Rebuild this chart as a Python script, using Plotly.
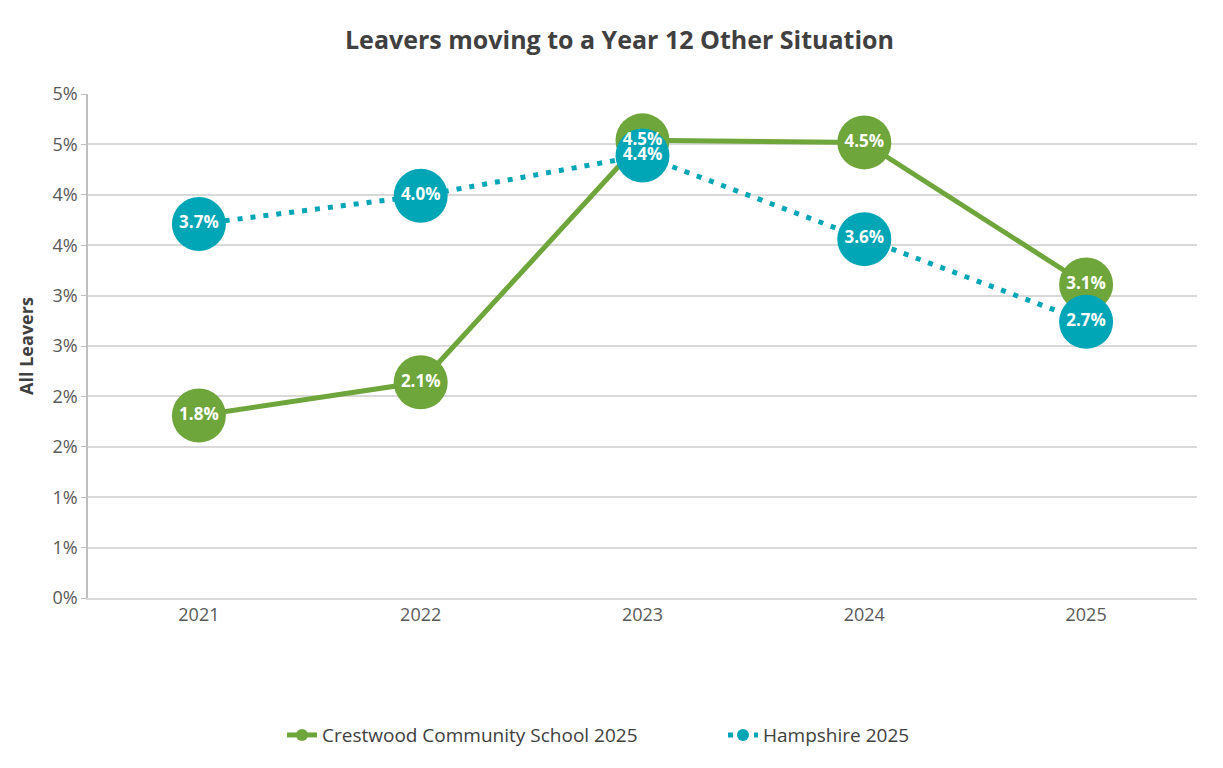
import plotly.graph_objects as go

years = ["2021", "2022", "2023", "2024", "2025"]
crestwood = [1.81, 2.14, 4.54, 4.52, 3.11]
hampshire = [3.71, 3.99, 4.39, 3.56, 2.74]
tick_vals = [0, 0.5, 1, 1.5, 2, 2.5, 3, 3.5, 4, 4.5, 5]
tick_labels = ["0%", "1%", "1%", "2%", "2%", "3%", "3%", "4%", "4%", "5%", "5%"]

title = "Leavers moving to a Year 12 Other Situation"
y_title = "All Leavers"
name_c = "Crestwood Community School 2025"
name_h = "Hampshire 2025"

GREEN = "#6FA63B"
TEAL = "#00A5B6"
FONT = "Open Sans"

fig = go.Figure()
fig.add_trace(go.Scatter(
    x=years, y=crestwood, name=name_c, mode="lines+markers",
    line=dict(color=GREEN, width=5),
    marker=dict(color=GREEN, size=54),
    hoverinfo="skip",
))
fig.add_trace(go.Scatter(
    x=years, y=hampshire, name=name_h, mode="lines+markers",
    line=dict(color=TEAL, width=5, dash="5px,8px"),
    marker=dict(color=TEAL, size=54),
    hoverinfo="skip",
))
for vals in (hampshire, crestwood):
    fig.add_trace(go.Scatter(
        x=years, y=vals, mode="text",
        text=[f"{v:.1f}%" for v in vals],
        textposition="middle center",
        textfont=dict(family=FONT, size=17, color="white", weight="bold"),
        showlegend=False, hoverinfo="skip",
    ))

fig.update_layout(
    width=1223, height=768,
    margin=dict(l=80, r=34, t=86, b=178),
    paper_bgcolor="white", plot_bgcolor="white",
    font=dict(family=FONT, color="#595959", size=18),
    title=dict(text=title, x=0.5, xanchor="center", y=1 - 32 / 768, yanchor="middle",
               font=dict(family=FONT, size=25, color="#404040", weight="bold")),
    showlegend=True,
    legend=dict(orientation="h", x=(282 - 88) / 1109, xanchor="left", y=-0.272, yanchor="middle",
                font=dict(family=FONT, size=19, color="#404040"),
                itemsizing="constant", entrywidth=396, traceorder="normal"),
    xaxis=dict(type="category", range=[-0.5, 4.5], showgrid=False,
               showline=True, linecolor="#D9D9D9", linewidth=1.5,
               ticks="", tickfont=dict(size=18, color="#595959"), zeroline=False),
    yaxis=dict(range=[0, 5], tickvals=tick_vals, ticktext=tick_labels,
               showgrid=True, gridcolor="#D9D9D9", gridwidth=1.5,
               showline=True, linecolor="#BFBFBF", linewidth=1.5,
               ticks="outside", ticklen=5, tickcolor="#BFBFBF", zeroline=False,
               tickfont=dict(size=18, color="#595959"),
               title=dict(text=y_title, standoff=14,
                          font=dict(family=FONT, size=18, color="#404040", weight="bold"))),
)

fig.write_html("out.html")
